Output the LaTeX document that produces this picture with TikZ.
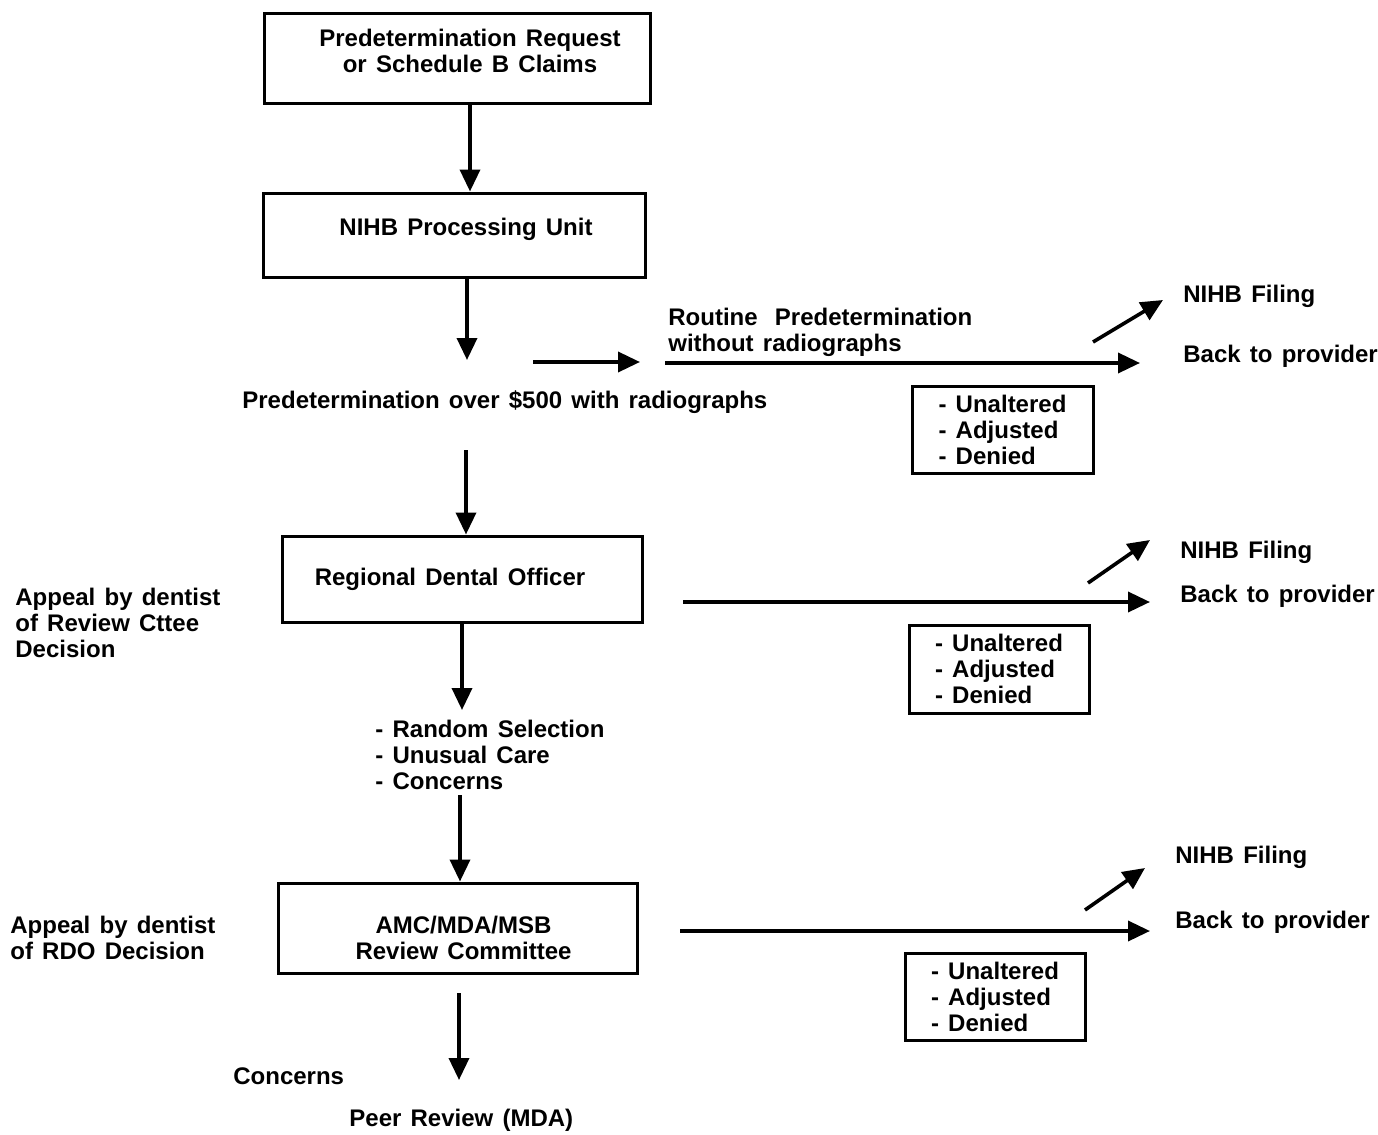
\documentclass[tikz,border=0pt]{standalone}
\usepackage{fontspec}
\setmainfont{Liberation Sans}
\usetikzlibrary{arrows.meta}
\protected\def\myfnt{\bfseries\fontsize{12}{13}\selectfont\spaceskip=4.6pt plus 1pt minus 0.5pt\relax}
\begin{document}
\begin{tikzpicture}[x=0.5pt,y=-0.5pt,
 every node/.style={font=\myfnt},
 box/.style={draw,line width=1.5pt,inner sep=0pt,align=center},
 obox/.style={draw,line width=1.5pt,inner sep=0pt,align=left},
 lbl/.style={inner sep=0pt,align=left,anchor=north west},
 wl/.style={inner sep=0pt,anchor=west},
 arr/.style={line width=1.8pt,-{Triangle[length=11pt,width=10pt]}},
]
\useasboundingbox (0,0) rectangle (1378,1135);

% main boxes
\node[box,minimum width=193pt,minimum height=45pt] (b1) at (457,58)
  {\hspace*{13pt}Predetermination Request\\\hspace*{13pt}or Schedule B Claims\rule[-7pt]{0pt}{0pt}};
\node[box,minimum width=191pt,minimum height=42pt] (b2) at (454,235)
  {\hspace*{12pt}NIHB Processing Unit\rule[-8.5pt]{0pt}{0pt}};
\node[box,minimum width=180pt,minimum height=43pt] (b3) at (462,579)
  {Regional Dental Officer\hspace*{12pt}};
\node[box,minimum width=179.5pt,minimum height=45pt] (b4) at (457.5,928)
  {\rule{0pt}{19pt}\hspace*{6pt}AMC/MDA/MSB\\\hspace*{6pt}Review Committee};

% outcome boxes
\node[obox,minimum width=90.5pt,minimum height=43.5pt] (o1) at (1002.5,429.5) {- Unaltered\\- Adjusted\\- Denied};
\node[obox,minimum width=90pt,minimum height=44pt] (o2) at (999,669) {- Unaltered\\- Adjusted\\- Denied};
\node[obox,minimum width=90pt,minimum height=43.5pt] (o3) at (995,996.5) {- Unaltered\\- Adjusted\\- Denied};

% labels
\node[wl] (over) at (242,402) {Predetermination over \$500 with radiographs};
\node[lbl] (routine) at (668,308) {Routine\hspace{4pt} Predetermination\\without radiographs};
\node[wl] (f1) at (1183,296) {NIHB Filing};
\node[wl] (p1) at (1183,356) {Back to provider};
\node[lbl] (ap1) at (15,588) {Appeal by dentist\\of Review Cttee\\Decision};
\node[wl] (f2) at (1180,552) {NIHB Filing};
\node[wl] (p2) at (1180,596) {Back to provider};
\node[lbl] (sel) at (375,720) {- Random Selection\\- Unusual Care\\- Concerns};
\node[lbl] (ap2) at (10,916) {Appeal by dentist\\of RDO Decision};
\node[wl] (f3) at (1175,857) {NIHB Filing};
\node[wl] (p3) at (1175,922) {Back to provider};
\node[wl] (conc) at (233,1076) {Concerns};
\node[wl] (peer) at (349,1120) {Peer Review (MDA)};

% helper coordinates
\coordinate (x1) at (470,0);
\coordinate (x2) at (467,0);
\coordinate (a2e) at (467,360);
\coordinate (s1) at (533,362);
\coordinate (s2) at (640,362);
\coordinate (l1s) at (665,363);
\coordinate (l1e) at (1140,363);
\coordinate (d1s) at (1093,342);
\coordinate (d1e) at (1163,300);
\coordinate (a3s) at (466,450);
\coordinate (x3) at (466,0);
\coordinate (x4) at (462,0);
\coordinate (a4e) at (462,710);
\coordinate (a5s) at (460,795);
\coordinate (x5) at (460,0);
\coordinate (l2s) at (683,602);
\coordinate (l2e) at (1150,602);
\coordinate (d2s) at (1088,583);
\coordinate (d2e) at (1150,540);
\coordinate (a7s) at (459,993);
\coordinate (a7e) at (459,1080);
\coordinate (l3s) at (680,931);
\coordinate (l3e) at (1150,931);
\coordinate (d3s) at (1085,910);
\coordinate (d3e) at (1145,868);

% connectors
\draw[arr] (b1.south -| x1) -- (b2.north -| x1);
\draw[arr] (b2.south -| x2) -- (a2e);
\draw[arr] (s1) -- (s2);
\draw[arr] (l1s) -- (l1e);
\draw[arr] (d1s) -- (d1e);
\draw[arr] (a3s) -- (b3.north -| x3);
\draw[arr] (b3.south -| x4) -- (a4e);
\draw[arr] (a5s) -- (b4.north -| x5);
\draw[arr] (l2s) -- (l2e);
\draw[arr] (d2s) -- (d2e);
\draw[arr] (a7s) -- (a7e);
\draw[arr] (l3s) -- (l3e);
\draw[arr] (d3s) -- (d3e);
\end{tikzpicture}
\end{document}
